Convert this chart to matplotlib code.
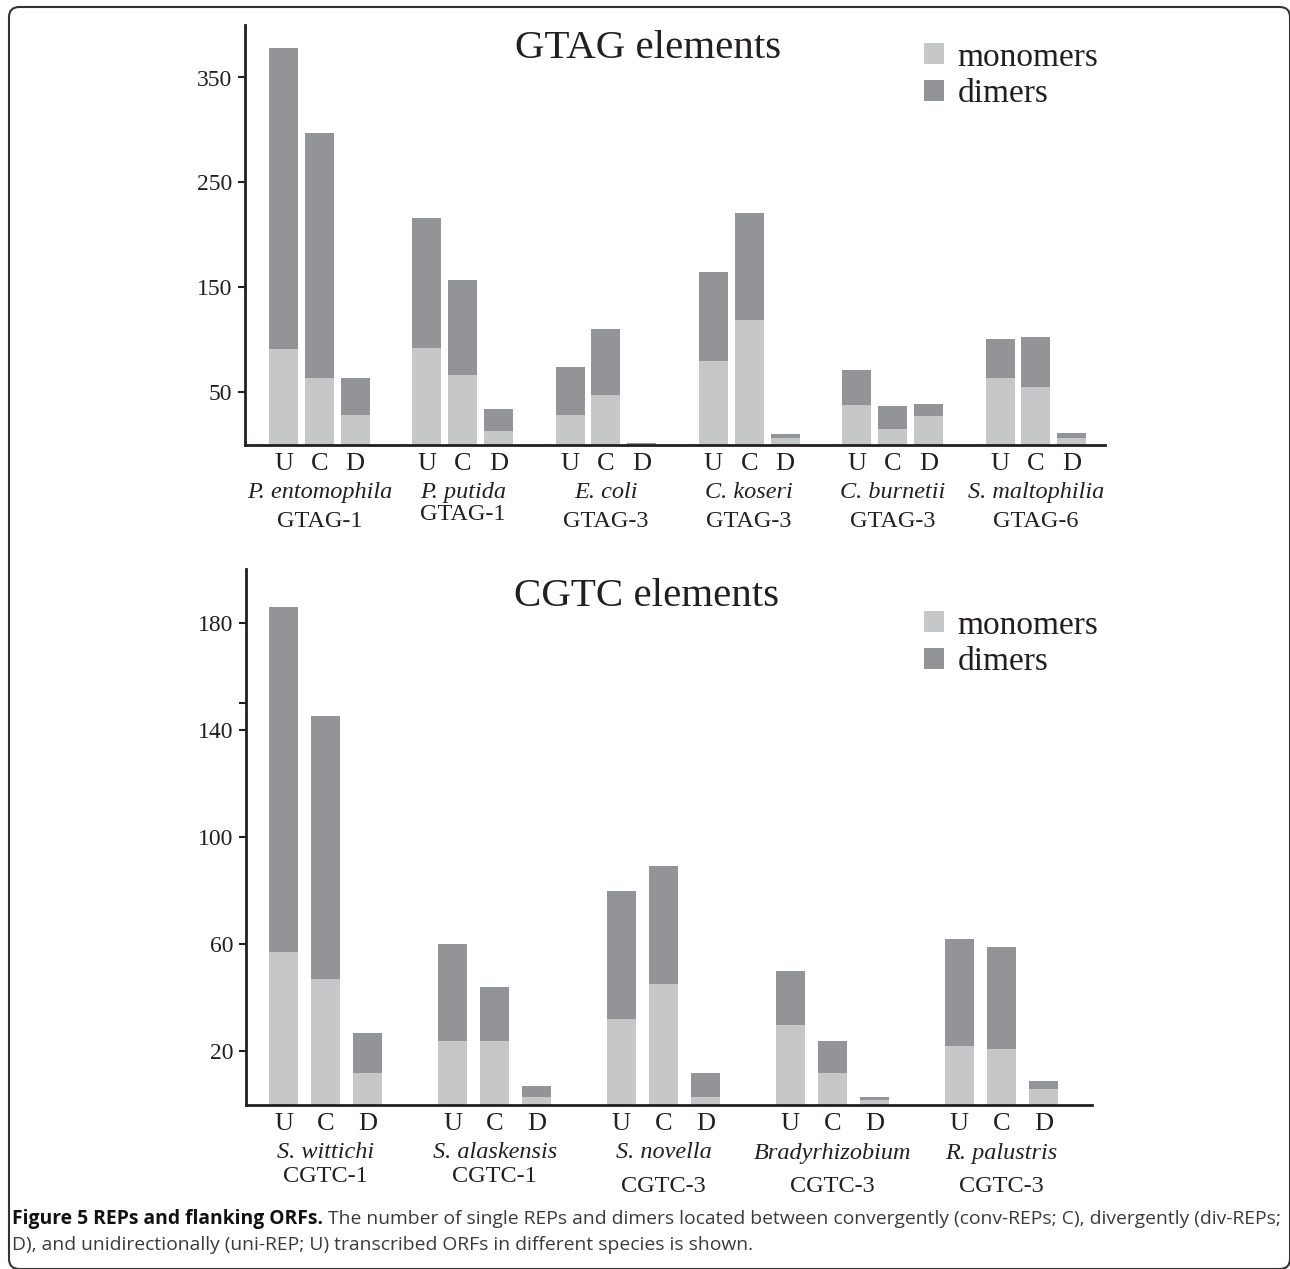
import numpy as np
import matplotlib.pyplot as plt
from matplotlib.patches import FancyBboxPatch

# ---- data ----
orientation = ['U', 'C', 'D']

gtag_species = ['P. entomophila', 'P. putida', 'E. coli', 'C. koseri', 'C. burnetii', 'S. maltophilia']
gtag_elements = ['GTAG-1', 'GTAG-1', 'GTAG-3', 'GTAG-3', 'GTAG-3', 'GTAG-6']
gtag_mono = [91, 64, 29, 92, 67, 13, 29, 48, 1, 80, 119, 7, 38, 15, 28, 64, 55, 7]
gtag_dimer = [287, 233, 35, 124, 90, 21, 45, 62, 1, 85, 102, 3, 33, 22, 11, 37, 48, 4]
gtag_yticks = [50, 150, 250, 350]

cgtc_species = ['S. wittichi', 'S. alaskensis', 'S. novella', 'Bradyrhizobium', 'R. palustris']
cgtc_elements = ['CGTC-1', 'CGTC-1', 'CGTC-3', 'CGTC-3', 'CGTC-3']
cgtc_mono = [57, 47, 12, 24, 24, 3, 32, 45, 3, 30, 12, 2, 22, 21, 6]
cgtc_dimer = [129, 98, 15, 36, 20, 4, 48, 44, 9, 20, 12, 1, 40, 38, 3]
cgtc_yticks = [20, 60, 100, 140, 150, 180]
cgtc_yticklabels = ['20', '60', '100', '140', '', '180']

W, H = 1290, 1269
MONO = '#c6c7c9'
DIM = '#939498'
INK = '#231f20'
SERIF = ['Liberation Serif', 'DejaVu Serif']


def px_rect(left, top, right, bottom):
    return [left / W, 1 - bottom / H, (right - left) / W, (bottom - top) / H]


def draw_panel(ax, mono, dimer, species, elements, elem_drop, width, xlim, ylim,
               yticks, yticklabels, title, title_xy, legend_top):
    n = len(species)
    x = np.array([g * 4 + i for g in range(n) for i in range(3)])
    ax.bar(x, mono, width, color=MONO, label='monomers')
    ax.bar(x, dimer, width, bottom=mono, color=DIM, label='dimers')
    ax.set_xlim(*xlim)
    ax.set_ylim(*ylim)

    for s in ['top', 'right']:
        ax.spines[s].set_visible(False)
    for s in ['left', 'bottom']:
        ax.spines[s].set_linewidth(2)
        ax.spines[s].set_color(INK)

    ax.set_xticks(x, orientation * n)
    ax.tick_params(axis='x', length=0, pad=6, labelsize=19, labelcolor=INK)
    ax.set_yticks(yticks, yticklabels)
    ax.tick_params(axis='y', length=5, width=1.5, color=INK, pad=4,
                   labelsize=17, labelcolor=INK)
    for lab in ax.get_xticklabels() + ax.get_yticklabels():
        lab.set_family(SERIF)

    for g in range(n):
        ax.annotate(species[g], xy=(g * 4 + 1, 0), xycoords=('data', 'axes fraction'),
                    xytext=(0, -48), textcoords='offset pixels', ha='center', va='center',
                    fontsize=17.5, style='italic', family=SERIF, color=INK)
        ax.annotate(elements[g], xy=(g * 4 + 1, 0), xycoords=('data', 'axes fraction'),
                    xytext=(0, -elem_drop[g]), textcoords='offset pixels', ha='center',
                    va='center', fontsize=17.5, family=SERIF, color=INK)

    ax.text(title_xy[0], title_xy[1], title, transform=ax.transAxes, ha='center',
            va='center', fontsize=29.5, family=SERIF, color=INK)
    ax.legend(loc='upper left', bbox_to_anchor=(924 / W, 1 - legend_top / H),
              bbox_transform=fig.transFigure, frameon=False,
              prop=dict(family=SERIF, size=24), handlelength=0.6, handleheight=0.6,
              handletextpad=0.4, labelspacing=0.18, borderpad=0, borderaxespad=0,
              labelcolor=INK)


fig = plt.figure(figsize=(W / 100, H / 100), dpi=100)

ax1 = fig.add_axes(px_rect(245, 25, 1105, 445))
draw_panel(ax1, gtag_mono, gtag_dimer, gtag_species, gtag_elements,
           [77, 70, 77, 77, 77, 77], 0.81, (-1.075, 22.93), (0, 400),
           gtag_yticks, [str(v) for v in gtag_yticks], 'GTAG elements',
           (0.469, 0.943), 42)

ax2 = fig.add_axes(px_rect(245.7, 569, 1092, 1105))
draw_panel(ax2, cgtc_mono, cgtc_dimer, cgtc_species, cgtc_elements,
           [72, 72, 82, 82, 82], 0.686, (-0.895, 19.14), (0, 200),
           cgtc_yticks, cgtc_yticklabels, 'CGTC elements', (0.474, 0.948), 610)

# rounded frame (right and bottom edges sit on the image border)
fig.patches.append(FancyBboxPatch((9 / W, 1 - 1269 / H), 1281 / W, 1262 / H,
                                  boxstyle='round,pad=0,rounding_size=0.008',
                                  transform=fig.transFigure, fill=False,
                                  edgecolor='#333333', linewidth=1.5))

# caption
cap_font = ['Open Sans', 'DejaVu Sans']
t1 = fig.text(12 / W, 1 - 1219 / H, 'Figure 5 REPs and flanking ORFs.', weight='bold',
              family=cap_font, color='#111111', va='center')
t2 = fig.text(0, 1 - 1219 / H,
              ' The number of single REPs and dimers located between convergently '
              '(conv-REPs; C), divergently (div-REPs;',
              family=cap_font, color='#3a3a3a', va='center')
t3 = fig.text(12 / W, 1 - 1245 / H,
              'D), and unidirectionally (uni-REP; U) transcribed ORFs in different '
              'species is shown.', family=cap_font, color='#3a3a3a', va='center')
renderer = fig.canvas.get_renderer()
size = 12.0
for _ in range(3):
    for t in (t1, t2, t3):
        t.set_fontsize(size)
    b1 = t1.get_window_extent(renderer)
    t2.set_x(b1.x1 / W)
    b2 = t2.get_window_extent(renderer)
    size *= (1278 - 12) / (b2.x1 - b1.x0)

fig.savefig('out.png', dpi=100)
